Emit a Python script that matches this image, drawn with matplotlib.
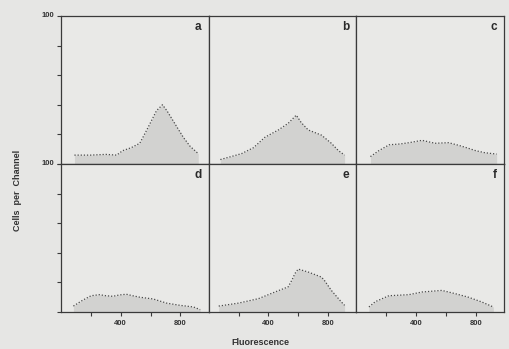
import numpy as np
import matplotlib.pyplot as plt

# histogram outlines (fluorescence channel, cells per channel)
a_x = [90, 200, 300, 373, 413, 470, 528, 575, 610, 640, 680, 710, 777, 820, 865, 920]
a_y = [6, 6, 6.5, 6, 9, 11, 14, 23, 30, 36, 40, 36, 25, 18, 12, 7]

b_x = [78, 150, 220, 300, 376, 430, 467, 533, 587, 620, 667, 756, 822, 870, 911]
b_y = [3, 5, 7, 11, 18, 21, 23, 27.5, 33, 28, 23, 19.5, 14, 9, 6]

c_x = [94, 150, 220, 290, 353, 440, 527, 618, 690, 751, 800, 862, 940]
c_y = [5, 9, 13, 13.5, 14.4, 16, 14, 14.4, 12.5, 10.6, 9, 7.6, 6.7]

d_x = [83, 146, 202, 258, 300, 348, 390, 438, 480, 528, 618, 708, 798, 888, 933]
d_y = [4, 8, 11, 11.7, 11, 10.6, 11.5, 12, 11, 10, 8.8, 6, 4.5, 3.4, 1.6]

e_x = [67, 200, 333, 444, 533, 560, 578, 600, 667, 756, 778, 822, 889, 911]
e_y = [4, 6, 9, 13.5, 17, 22, 26, 29, 27, 23.6, 21, 14.6, 6.8, 4.5]

f_x = [84, 127, 218, 351, 440, 573, 662, 751, 840, 918]
f_y = [3.4, 7, 11, 11.7, 13.5, 14.6, 12.4, 10, 6.8, 3.4]

panels = [("a", a_x, a_y), ("b", b_x, b_y), ("c", c_x, c_y),
          ("d", d_x, d_y), ("e", e_x, e_y), ("f", f_x, f_y)]

x_ticks = [200, 400, 600, 800]
x_labels = ["", "400", "", "800"]
y_ticks = [0, 20, 40, 60, 80, 100]
y_labels = ["", "", "", "", "", "100"]

bg = "#e6e6e4"
fig = plt.figure(figsize=(5.1, 3.49), dpi=100, facecolor=bg)

left, w = 61 / 510, 147.7 / 510
h = 148 / 349
bottoms = [1 - 164 / 349, 1 - 312 / 349]

for i, (name, xs, ys) in enumerate(panels):
    row, col = divmod(i, 3)
    ax = fig.add_axes([left + col * w, bottoms[row], w, h], facecolor="#e9e9e7")
    ax.fill_between(xs, 0, ys, color="#d2d2d0", lw=0)
    ax.plot(xs, ys, ls=(0, (1, 1.5)), color="#4a4a4a", lw=0.9)
    ax.set_xlim(0, 990)
    ax.set_ylim(0, 100)
    for s in ax.spines.values():
        s.set_color("#3a3a3a")
        s.set_linewidth(0.9)
    ax.text(0.95, 0.965, name, transform=ax.transAxes, ha="right", va="top",
            fontsize=8.5, fontweight="bold", color="#2a2a2a", family="Liberation Sans")
    if row == 1:
        ax.set_xticks(x_ticks)
        ax.set_xticklabels(x_labels, fontsize=5.5, fontweight="bold", color="#333333",
                           family="Liberation Sans")
        ax.tick_params(axis="x", direction="out", length=3, width=0.8, color="#3a3a3a", pad=2.5)
    else:
        ax.set_xticks([])
    if col == 0:
        ax.set_yticks(y_ticks)
        ax.set_yticklabels(y_labels, fontsize=5.5, fontweight="bold", color="#333333",
                           family="Liberation Sans")
        ax.tick_params(axis="y", direction="out", length=3, width=0.8, color="#3a3a3a", pad=2)
        for lab in ax.get_yticklabels():
            lab.set_verticalalignment("center")
    else:
        ax.set_yticks([])

fig.text(0.035, 0.455, "Cells  per  Channel", rotation=90, ha="center", va="center",
         fontsize=6.5, fontweight="bold", color="#333333", family="Liberation Sans")
fig.text(0.51, 0.02, "Fluorescence", ha="center", va="center",
         fontsize=6.5, fontweight="bold", color="#333333", family="Liberation Sans")

fig.savefig("out.png", dpi=100, facecolor=bg)
